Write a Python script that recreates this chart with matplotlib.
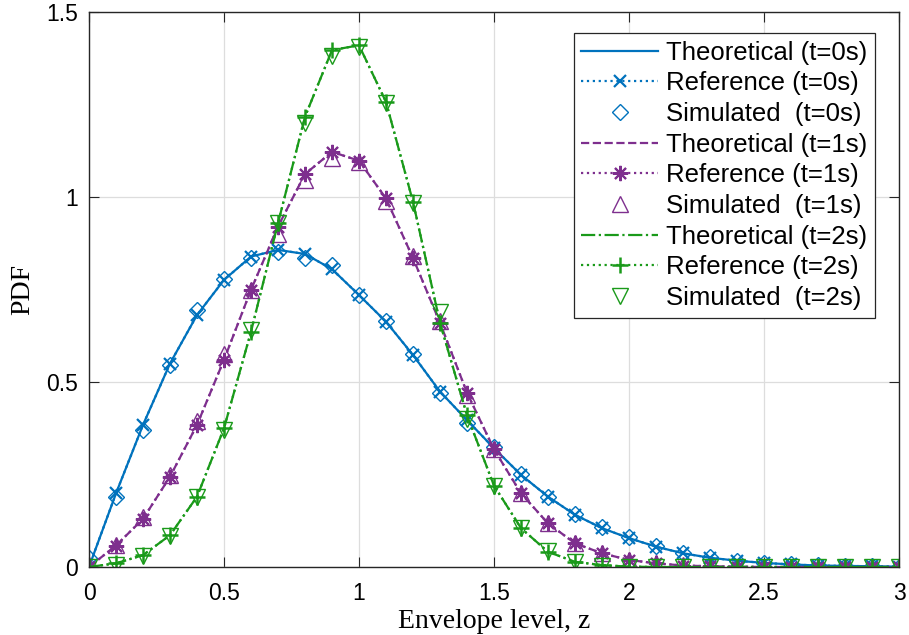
import numpy as np
import matplotlib
matplotlib.use("Agg")
import matplotlib.pyplot as plt

# envelope levels
z = np.round(np.arange(0, 3.01, 0.1), 1)

# t = 0 s
theo_0 = [0, 0.199, 0.384, 0.55, 0.681, 0.776, 0.839, 0.857, 0.846, 0.805, 0.735,
          0.663, 0.573, 0.474, 0.397, 0.321, 0.249, 0.19, 0.141, 0.105, 0.078,
          0.055, 0.037, 0.025, 0.017, 0.011, 0.007, 0.004, 0.003, 0.002, 0.001]
ref_0 = theo_0
sim_0 = [0.025, 0.19, 0.37, 0.545, 0.695, 0.778, 0.835, 0.852, 0.835, 0.815, 0.735,
         0.665, 0.575, 0.47, 0.39, 0.325, 0.252, 0.19, 0.142, 0.107, 0.08,
         0.056, 0.038, 0.026, 0.017, 0.011, 0.007, 0.005, 0.003, 0.002, 0.001]

# t = 1 s
theo_1 = [0, 0.058, 0.13, 0.244, 0.384, 0.56, 0.749, 0.92, 1.062, 1.122, 1.098,
          0.996, 0.835, 0.66, 0.471, 0.318, 0.199, 0.118, 0.064, 0.037, 0.019,
          0.01, 0.004, 0.002, 0.001, 0, 0, 0, 0, 0, 0]
ref_1 = theo_1
sim_1 = [0.005, 0.06, 0.135, 0.25, 0.395, 0.575, 0.75, 0.9, 1.046, 1.105, 1.095,
         0.99, 0.84, 0.665, 0.465, 0.32, 0.2, 0.12, 0.065, 0.038, 0.02,
         0.01, 0.005, 0.002, 0.001, 0, 0, 0, 0, 0, 0]

# t = 2 s
theo_2 = [0, 0.01, 0.032, 0.086, 0.19, 0.375, 0.636, 0.929, 1.217, 1.397, 1.41,
          1.257, 0.987, 0.66, 0.41, 0.22, 0.105, 0.041, 0.014, 0.005, 0.001,
          0, 0, 0, 0, 0, 0, 0, 0, 0, 0]
ref_2 = theo_2
sim_2 = [0, 0.005, 0.03, 0.085, 0.19, 0.37, 0.64, 0.93, 1.2, 1.38, 1.405,
         1.255, 0.985, 0.69, 0.4, 0.22, 0.105, 0.042, 0.013, 0.004, 0.001,
         0, 0, 0, 0, 0, 0, 0, 0, 0, 0]

c_blue = "#0072BD"
c_purple = "#7E2F8E"
c_green = "#1A9A1A"

plt.rcParams["font.family"] = ["Liberation Sans", "DejaVu Sans"]

fig = plt.figure(figsize=(9.09, 6.35), dpi=100)
ax = fig.add_axes([89 / 909, 68 / 635, 810 / 909, 555 / 635])

lw = 1.6
ax.plot(z, theo_0, "-", color=c_blue, lw=lw, label="Theoretical (t=0s)")
ax.plot(z, ref_0, ":", color=c_blue, lw=lw, marker="x", ms=8, mew=1.6,
        label="Reference (t=0s)")
ax.plot(z, sim_0, "none", marker="D", ms=8.5, mfc="none", mec=c_blue, mew=1.0,
        label="Simulated  (t=0s)")

ax.plot(z, theo_1, "--", color=c_purple, lw=lw, label="Theoretical (t=1s)")
ax.plot(z, ref_1, ":", color=c_purple, lw=lw, marker=(8, 2, 0), ms=11, mew=1.5,
        label="Reference (t=1s)")
ax.plot(z, sim_1, "none", marker="^", ms=11, mfc="none", mec=c_purple, mew=1.0,
        label="Simulated  (t=1s)")

ax.plot(z, theo_2, "-.", color=c_green, lw=lw, label="Theoretical (t=2s)")
ax.plot(z, ref_2, ":", color=c_green, lw=lw, marker="+", ms=11, mew=1.8,
        label="Reference (t=2s)")
ax.plot(z, sim_2, "none", marker="v", ms=11, mfc="none", mec=c_green, mew=1.0,
        label="Simulated  (t=2s)")

ax.set_xlim(0, 3)
ax.set_ylim(0, 1.5)
ax.set_xticks(np.arange(0, 3.01, 0.5))
ax.set_xticklabels(["0", "0.5", "1", "1.5", "2", "2.5", "3"])
ax.set_yticks([0, 0.5, 1, 1.5])
ax.set_yticklabels(["0", "0.5", "1", "1.5"])
ax.tick_params(direction="in", top=True, right=True, labelsize=16.5, length=7,
               width=0.8, colors="#262626", labelcolor="black")
ax.tick_params(axis="x", pad=11)
ax.tick_params(axis="y", pad=8)
ax.grid(True, color="#dddddd", lw=0.9)
ax.set_axisbelow(True)
for s in ax.spines.values():
    s.set_color("#262626")
    s.set_linewidth(1.0)

ax.set_xlabel("Envelope level, z", family=["Liberation Serif", "DejaVu Serif"],
              fontsize=20, labelpad=3)
ax.set_ylabel("PDF", family=["Liberation Serif", "DejaVu Serif"], fontsize=20,
              labelpad=8)

leg = ax.legend(loc="upper right", bbox_to_anchor=(875 / 909, 1 - 33 / 635),
                bbox_transform=fig.transFigure, borderaxespad=0,
                fontsize=18.5, handlelength=3.0, labelspacing=0.26,
                handletextpad=0.3, fancybox=False, framealpha=1, borderpad=0.3)
leg.get_frame().set_edgecolor("#262626")
leg.get_frame().set_linewidth(0.9)

fig.savefig("out.png", dpi=100)
